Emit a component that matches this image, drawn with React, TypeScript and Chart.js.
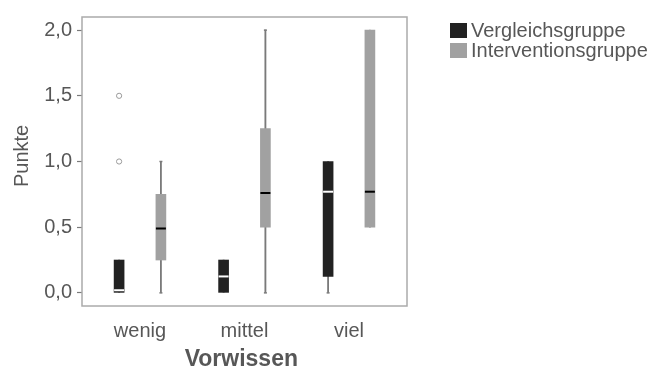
import React, { useEffect, useRef } from 'react';
import { Chart, registerables } from 'chart.js';

Chart.register(...registerables);

// ---- data ----
const categories = ['wenig', 'mittel', 'viel'];
const seriesNames = ['Vergleichsgruppe', 'Interventionsgruppe'];

const vergleichMin = [0, 0, 0];
const vergleichQ1 = [0, 0, 0.125];
const vergleichMedian = [0.02, 0.125, 0.77];
const vergleichQ3 = [0.25, 0.25, 1.0];
const vergleichMax = [0.25, 0.25, 1.0];
const vergleichOutliers = [[1.0, 1.5], [], []];

const interventionMin = [0, 0, 0.5];
const interventionQ1 = [0.25, 0.5, 0.5];
const interventionMedian = [0.49, 0.76, 0.77];
const interventionQ3 = [0.75, 1.25, 2.0];
const interventionMax = [1.0, 2.0, 2.0];
const interventionOutliers = [[], [], []];

const yTicks = [0, 0.5, 1.0, 1.5, 2.0];

// ---- styles ----
const DARK = '#222222';
const GRAY = '#a1a1a1';
const TEXT = '#575757';
const WHISKER = '#7a7a7a';
const FONT = "'Liberation Sans', Arial, sans-serif";
const DODGE = 0.2;

const groups = [
  { name: seriesNames[0], color: DARK, medColor: '#ffffff', off: -DODGE, min: vergleichMin, q1: vergleichQ1, med: vergleichMedian, q3: vergleichQ3, max: vergleichMax, out: vergleichOutliers },
  { name: seriesNames[1], color: GRAY, medColor: '#000000', off: DODGE, min: interventionMin, q1: interventionQ1, med: interventionMedian, q3: interventionQ3, max: interventionMax, out: interventionOutliers },
];

const panelBorder = {
  id: 'panelBorder',
  afterDatasetsDraw(chart: any) {
    const { ctx, chartArea } = chart;
    ctx.save();
    ctx.strokeStyle = '#ababab';
    ctx.lineWidth = 1.5;
    ctx.strokeRect(chartArea.left, chartArea.top, chartArea.right - chartArea.left, chartArea.bottom - chartArea.top);
    ctx.restore();
  },
};

const customLegend = {
  id: 'customLegend',
  afterDraw(chart: any) {
    const { ctx } = chart;
    ctx.save();
    ctx.font = `20px ${FONT}`;
    ctx.textBaseline = 'alphabetic';
    ctx.textAlign = 'left';
    groups.forEach((g, i) => {
      const top = 23 + i * 20;
      ctx.fillStyle = g.color;
      ctx.fillRect(450, top, 17, 15);
      ctx.fillStyle = TEXT;
      ctx.fillText(g.name, 471, top + 14);
    });
    ctx.restore();
  },
};

export default function App() {
  const ref = useRef<HTMLCanvasElement>(null);

  useEffect(() => {
    document.body.style.margin = '0';
    const datasets: any[] = [];
    groups.forEach((g) => {
      // whiskers
      datasets.push({
        type: 'bar',
        label: g.name + ' whisker',
        data: categories.map((_, i) => ({ x: i + 1 + g.off, y: [g.min[i], g.max[i]] })),
        backgroundColor: WHISKER,
        borderWidth: 0,
        barThickness: 1.2,
        grouped: false,
        order: 4,
      });
      // whisker caps (only where the whisker extends beyond the box)
      const caps: any[] = [];
      categories.forEach((_, i) => {
        if (g.min[i] < g.q1[i]) caps.push({ x: i + 1 + g.off, y: g.min[i] });
        if (g.max[i] > g.q3[i]) caps.push({ x: i + 1 + g.off, y: g.max[i] });
      });
      datasets.push({
        type: 'scatter',
        label: g.name + ' caps',
        data: caps,
        pointStyle: 'line',
        pointRadius: 1.5,
        borderColor: WHISKER,
        borderWidth: 1.5,
        order: 4,
      });
      // boxes
      datasets.push({
        type: 'bar',
        label: g.name,
        data: categories.map((_, i) => ({ x: i + 1 + g.off, y: [g.q1[i], g.q3[i]] })),
        backgroundColor: g.color,
        borderWidth: 0,
        barThickness: 10,
        grouped: false,
        order: 3,
      });
      // medians
      datasets.push({
        type: 'scatter',
        label: g.name + ' median',
        data: categories.map((_, i) => ({ x: i + 1 + g.off, y: g.med[i] })),
        pointStyle: 'line',
        pointRadius: 5,
        borderColor: g.medColor,
        borderWidth: 2,
        order: 2,
      });
      // outliers
      const outs: any[] = [];
      g.out.forEach((arr, i) => arr.forEach((v) => outs.push({ x: i + 1 + g.off, y: v })));
      datasets.push({
        type: 'scatter',
        label: g.name + ' outliers',
        data: outs,
        pointStyle: 'circle',
        pointRadius: 2.6,
        backgroundColor: 'rgba(0,0,0,0)',
        borderColor: '#9a9a9a',
        borderWidth: 1,
        order: 1,
      });
    });

    const chart = new Chart(ref.current as HTMLCanvasElement, {
      type: 'bar',
      data: { datasets },
      options: {
        animation: false,
        responsive: false,
        devicePixelRatio: 1,
        layout: { padding: { top: 8, right: 246, bottom: 0, left: 0 } },
        plugins: { legend: { display: false }, tooltip: { enabled: false } },
        scales: {
          x: {
            type: 'linear',
            min: 0.445,
            max: 3.555,
            offset: false,
            grid: { display: false, drawTicks: false },
            border: { display: false },
            afterBuildTicks: (scale: any) => {
              scale.ticks = categories.map((_, i) => ({ value: i + 1 }));
            },
            afterFit: (scale: any) => {
              scale.height = 65;
            },
            ticks: {
              autoSkip: false,
              maxRotation: 0,
              padding: 13,
              color: TEXT,
              font: { family: FONT, size: 20 },
              callback: (v: any) => categories[Math.round(Number(v)) - 1] ?? '',
            },
            title: {
              display: true,
              text: 'Vorwissen ',
              color: TEXT,
              font: { family: FONT, size: 23, weight: 'bold', lineHeight: 1 },
              padding: { top: 0, bottom: 0 },
            },
          },
          y: {
            type: 'linear',
            min: -0.1,
            max: 2.1,
            afterBuildTicks: (scale: any) => {
              scale.ticks = yTicks.map((v) => ({ value: v }));
            },
            afterFit: (scale: any) => {
              scale.width = 82;
            },
            grid: {
              display: true,
              drawOnChartArea: false,
              drawTicks: true,
              tickLength: 5,
              tickColor: '#7a7a7a',
              tickWidth: 1.2,
            },
            border: { display: false },
            ticks: {
              padding: 5,
              color: TEXT,
              font: { family: FONT, size: 20 },
              callback: (v: any) => Number(v).toFixed(1).replace('.', ','),
            },
            title: {
              display: true,
              text: '  Punkte',
              color: TEXT,
              font: { family: FONT, size: 20 },
              padding: { top: 10, bottom: 0 },
            },
          },
        },
      },
      plugins: [panelBorder, customLegend],
    } as any);

    return () => chart.destroy();
  }, []);

  return (
    <div style={{ width: 653, height: 371, background: '#fff' }}>
      <canvas ref={ref} width={653} height={371} style={{ display: 'block' }} />
    </div>
  );
}
